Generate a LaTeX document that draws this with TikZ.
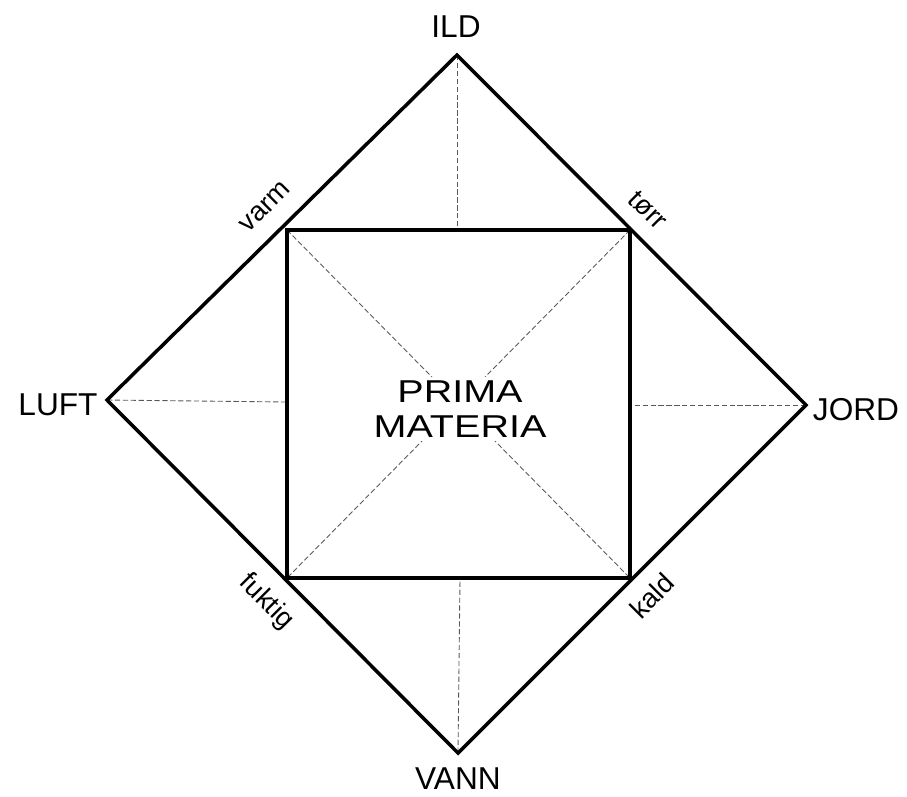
\documentclass[tikz,border=0pt]{standalone}
\usepackage{fontspec}
\setmainfont{Liberation Sans}
\usetikzlibrary{positioning}

\begin{document}
\begin{tikzpicture}[x=0.02cm, y=-0.02cm]
    \tikzstyle{element} = [font=\fontsize{18}{20}\selectfont, inner sep=1pt]
    \tikzstyle{quality} = [font=\fontsize{15.5}{17}\selectfont, inner sep=0pt]
    \tikzstyle{frame} = [draw, line width=2pt, line join=miter]
    \tikzstyle{guide} = [draw, gray!70!black, line width=0.5pt, dash pattern=on 3pt off 1.5pt]
    \useasboundingbox (0,0) rectangle (907,796);

    % corners of the diamond
    \coordinate (top) at (457,55);
    \coordinate (left) at (107,400);
    \coordinate (right) at (806,405);
    \coordinate (bottom) at (458,753);
    % corners of the square
    \coordinate (nw) at (287,230);
    \coordinate (ne) at (630,230);
    \coordinate (se) at (630,578);
    \coordinate (sw) at (287,578);
    % feet of the guides
    \coordinate (ntop) at (457,230);
    \coordinate (nleft) at (287,402);
    \coordinate (nright) at (630,405);
    \coordinate (nbottom) at (460,578);

    % guides
    \path [guide] (top) -- (ntop);
    \path [guide] (left) -- (nleft);
    \path [guide] (right) -- (nright);
    \path [guide] (bottom) -- (nbottom);
    \path [guide] (nw) -- (se);
    \path [guide] (ne) -- (sw);

    \node [fill=white, inner sep=2pt, align=center, xscale=1.25, font=\fontsize{18}{19.5}\selectfont] (prima) at (460,409) {PRIMA\\MATERIA};

    \path [frame] (top) -- (right) -- (bottom) -- (left) -- cycle;
    \path [frame] (nw) -- (ne) -- (se) -- (sw) -- cycle;

    \node [element] (ild) at (456,27) {ILD};
    \node [element] (luft) at (58,405) {LUFT};
    \node [element] (jord) at (856,410) {JORD};
    \node [element] (vann) at (458,779) {VANN};

    \node [quality, rotate=45] (varm) at (265,207) {varm};
    \node [quality, rotate=-45] (torr) at (648,210) {tørr};
    \node [quality, rotate=-45] (fuktig) at (266,602) {fuktig};
    \node [quality, rotate=45] (kald) at (652,596) {kald};
\end{tikzpicture}
\end{document}
